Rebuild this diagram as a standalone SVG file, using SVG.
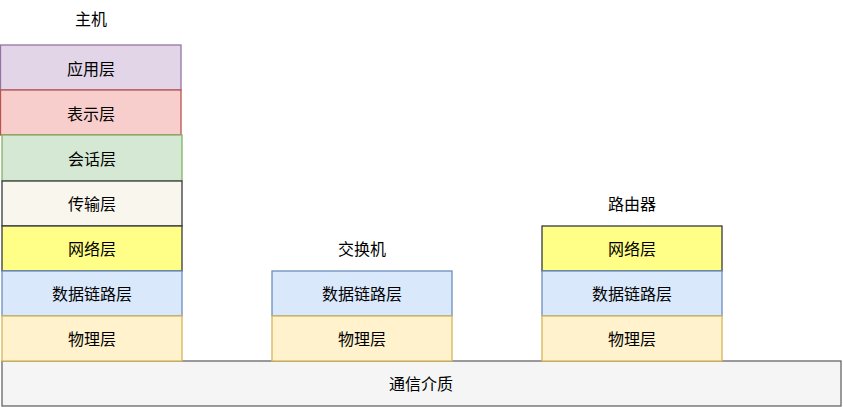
<svg xmlns="http://www.w3.org/2000/svg" width="843" height="407" viewBox="0 0 843 407">
<style>
text{font-family:"Noto Sans CJK SC","Liberation Sans",sans-serif;font-size:16px;fill:#000;text-anchor:middle;dominant-baseline:central}
rect{stroke-width:1.3}
.app{fill:#e1d5e7;stroke:#9673a6}.pre{fill:#f8cecc;stroke:#b85450}.ses{fill:#d5e8d4;stroke:#82b366}
.tra{fill:#f9f7ed;stroke:#36393d}.net{fill:#ffff88;stroke:#36393d}.dl{fill:#dae8fc;stroke:#6c8ebf}
.phy{fill:#fff2cc;stroke:#d6b656}.med{fill:#f5f5f5;stroke:#666666}
</style>
<rect width="843" height="407" fill="#fff" stroke="none"/>
<g id="medium"><rect class="med" x="2" y="361" width="839" height="45"/><text x="421" y="383">通信介质</text></g>
<g id="host">
<text x="91" y="18">主机</text>
<g id="h-app"><rect class="app" x="0.5" y="45" width="180.5" height="45"/><text x="91" y="68">应用层</text></g>
<g id="h-pre"><rect class="pre" x="0.5" y="90" width="180.5" height="45"/><text x="91" y="113">表示层</text></g>
<g id="h-ses"><rect class="ses" x="2" y="135" width="180" height="46"/><text x="92" y="158">会话层</text></g>
<g id="h-tra"><rect class="tra" x="2" y="181" width="180" height="45"/><text x="92" y="203">传输层</text></g>
<g id="h-net"><rect class="net" x="2" y="226" width="180" height="45"/><text x="92" y="248">网络层</text></g>
<g id="h-dl"><rect class="dl" x="2" y="271" width="180" height="45"/><text x="92" y="293">数据链路层</text></g>
<g id="h-phy"><rect class="phy" x="2" y="316" width="180" height="45"/><text x="92" y="338">物理层</text></g>
</g>
<g id="switch">
<text x="362" y="248">交换机</text>
<g id="s-dl"><rect class="dl" x="272" y="271" width="180" height="45"/><text x="362" y="293">数据链路层</text></g>
<g id="s-phy"><rect class="phy" x="272" y="316" width="180" height="45"/><text x="362" y="338">物理层</text></g>
</g>
<g id="router">
<text x="632" y="203">路由器</text>
<g id="r-net"><rect class="net" x="542" y="226" width="180" height="45"/><text x="632" y="248">网络层</text></g>
<g id="r-dl"><rect class="dl" x="542" y="271" width="180" height="45"/><text x="632" y="293">数据链路层</text></g>
<g id="r-phy"><rect class="phy" x="542" y="316" width="180" height="45"/><text x="632" y="338">物理层</text></g>
</g>
<g id="connectors"/>
</svg>
